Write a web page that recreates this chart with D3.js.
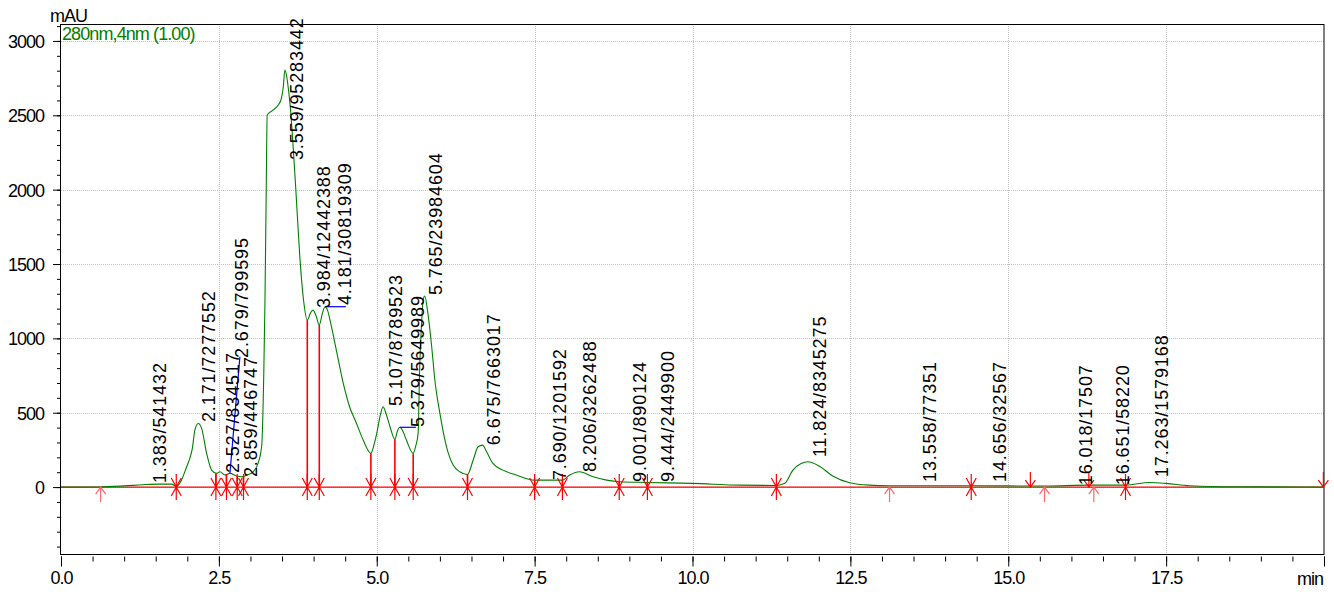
<!DOCTYPE html>
<html>
<head>
<meta charset="utf-8">
<script src="https://cdn.jsdelivr.net/npm/d3@7"></script>
<style>
  html, body { margin: 0; padding: 0; background: #fff; }
  svg { display: block; font-family: "Liberation Sans", Arial, sans-serif; }
</style>
</head>
<body>
<svg id="chart" width="1334" height="592"></svg>
<script>
// Chromatogram trace: retention time (min) and absorbance (mAU)
const timeMin = [
  0.00, 0.60, 1.00, 1.30, 1.55, 1.75, 1.83, 1.90, 1.99, 2.04, 2.08, 2.12, 2.173, 2.227,
  2.306, 2.385, 2.464, 2.517, 2.596, 2.675, 2.78, 2.86, 2.94, 3.044, 3.12, 3.177, 3.213,
  3.23, 3.25, 3.265, 3.36, 3.44, 3.49, 3.52, 3.545, 3.57, 3.60, 3.63, 3.67, 3.72, 3.78,
  3.84, 3.90, 3.95, 3.99, 4.04, 4.09, 4.14, 4.18, 4.22, 4.26, 4.36, 4.47, 4.57, 4.68,
  4.785, 4.907, 4.96, 5.00, 5.06, 5.10, 5.15, 5.21, 5.287, 5.33, 5.366, 5.42, 5.47,
  5.577, 5.62, 5.655, 5.68, 5.71, 5.735, 5.76, 5.81, 5.87, 5.92, 6.00, 6.105, 6.21,
  6.315, 6.437, 6.527, 6.605, 6.675, 6.74, 6.84, 7.00, 7.21, 7.50, 7.69, 7.94, 8.056,
  8.21, 8.425, 8.64, 8.85, 9.27, 10.00, 10.75, 11.33, 11.46, 11.59, 11.72, 11.83, 12.01,
  12.22, 12.49, 12.80, 13.12, 14.41, 15.57, 16.28, 16.86, 17.24, 17.50, 17.87, 18.66, 20.00
];
const absMAU = [
  0, 1, 8, 16, 20, 20, 5, 40, 137, 193, 260, 383, 428, 395,
  227, 114, 92, 103, 81, 92, 74, 69, 81, 103, 159, 271, 809,
  1258, 2000, 2502, 2536, 2569, 2614, 2692, 2805, 2771, 2680, 2560, 2330, 1990, 1560,
  1260, 1123, 1170, 1190, 1150, 1090, 1170, 1213, 1190, 1123, 921, 697, 540, 428,
  316, 227, 290, 361, 490, 540, 490, 406, 321, 380, 402, 370, 316,
  227, 280, 361, 809, 1100, 1258, 1285, 1168, 944, 720, 496, 271, 148,
  103, 85, 182, 271, 282, 237, 159, 114, 81, 47, 47, 47, 81,
  103, 69, 47, 36, 31, 25, 13, 11, 25, 114, 159, 170, 140,
  75, 29, 13, 9, 9, 7, 13, 13, 31, 25, 9, 2, 0
];

// Integrated peaks: retention time and area
const peakRT = ["1.383", "2.171", "2.527", "2.679", "2.859", "3.559", "3.984", "4.181",
  "5.107", "5.379", "5.765", "6.675", "7.690", "8.206", "9.001", "9.444",
  "11.824", "13.558", "14.656", "16.018", "16.651", "17.263"];
const peakArea = ["541432", "7277552", "834517", "799595", "446747", "95283442", "12442388",
  "30819309", "8789523", "5649989", "23984604", "7663017", "1201592", "3262488", "890124",
  "2449900", "8345275", "77351", "32567", "17507", "58220", "1579168"];
// Anchor of each peak label (min) and the absorbance its text starts from (mAU)
const labelAtMin = [1.662, 2.437, 2.817, 2.96, 3.10, 3.83, 4.258, 4.59, 5.397, 5.745,
  6.03, 6.948, 7.993, 8.468, 9.26, 9.70, 12.108, 13.85, 14.957, 16.334, 16.92, 17.537];
const labelBaseMAU = [27, 437, 94, 868, 67, 2199, 1204, 1224, 545, 404, 1291, 282, 47, 101,
  34, 34, 202, 34, 34, 13, 13, 67];

// Peak boundary marks (min) and the height of their drop lines (mAU)
const boundaryMin = [1.825, 2.453, 2.62, 2.79, 2.89, 3.90, 4.09, 4.907, 5.287, 5.577,
  6.437, 7.50, 7.94, 8.84, 9.286, 11.328, 14.414, 16.857];
const boundaryDropMAU = [0, 92, 88, 74, 74, 1123, 1090, 227, 321, 227,
  85, 47, 47, 36, 31, 11, 9, 0];
// Baseline start / end events (min)
const startMin = [0.628, 13.12, 15.575, 16.355];
const endMin = [15.35, 16.277, 19.99];
// Skim / tangent segments: [t1, v1, t2, v2]
const skimT1 = [2.675, 4.18, 5.366];
const skimV1 = [92, 1213, 402];
const skimT2 = [2.833, 4.51, 5.62];
const skimV2 = [876, 1213, 402];

// Axis ticks
const xTickValues = [0, 2.5, 5, 7.5, 10, 12.5, 15, 17.5];
const xTickLabels = ["0.0", "2.5", "5.0", "7.5", "10.0", "12.5", "15.0", "17.5"];
const yTickValues = [0, 500, 1000, 1500, 2000, 2500, 3000];
const yTickLabels = ["0", "500", "1000", "1500", "2000", "2500", "3000"];

const svg = d3.select("#chart");
const plotL = 61, plotR = 1324, plotT = 24, plotB = 554;

const x = d3.scaleLinear().domain([0, 20]).range([plotL, plotR]);
const y = d3.scaleLinear().domain([-450, 3114]).range([plotB, plotT]);

const red = "#ff0000", pink = "#ff6a6a", green = "#008000", blue = "#0000ff";

// grid
const grid = svg.append("g");
grid.selectAll("line.gx").data(xTickValues.filter(d => d > 0)).join("line")
  .attr("x1", d => Math.round(x(d)) + 0.5).attr("x2", d => Math.round(x(d)) + 0.5)
  .attr("y1", plotT).attr("y2", plotB)
  .attr("stroke", "#c0c0c0").attr("stroke-dasharray", "1,1");
grid.selectAll("line.gy").data(yTickValues).join("line")
  .attr("x1", plotL).attr("x2", plotR)
  .attr("y1", d => Math.round(y(d)) + 0.5).attr("y2", d => Math.round(y(d)) + 0.5)
  .attr("stroke", "#c0c0c0").attr("stroke-dasharray", "1,1");

// minor ticks
const xMinor = d3.range(0, 20.01, 0.5);
const yMinor = d3.range(-400, 3101, 100);
svg.append("g").attr("transform", `translate(0,${plotB + 2.5})`)
  .call(d3.axisBottom(x).tickValues(xMinor).tickSize(5).tickFormat(""))
  .call(g => g.select(".domain").remove());
svg.append("g").attr("transform", `translate(${plotL},0)`)
  .call(d3.axisLeft(y).tickValues(yMinor).tickSize(4).tickFormat(""))
  .call(g => g.select(".domain").remove());

// major ticks with labels
const xAxis = svg.append("g").attr("transform", `translate(0,${plotB + 2.5})`)
  .call(d3.axisBottom(x).tickValues(xTickValues.concat([20])).tickSize(10).tickPadding(5)
    .tickFormat((d, i) => i < xTickLabels.length ? xTickLabels[i] : ""))
  .call(g => g.select(".domain").remove());
const yAxis = svg.append("g").attr("transform", `translate(${plotL},0)`)
  .call(d3.axisLeft(y).tickValues(yTickValues).tickSize(8).tickPadding(9)
    .tickFormat((d, i) => yTickLabels[i]))
  .call(g => g.select(".domain").remove());
[xAxis, yAxis].forEach(g => g.selectAll("text")
  .attr("font-family", "'Liberation Sans', Arial, sans-serif")
  .attr("font-size", 18).attr("letter-spacing", "-1px").attr("fill", "#000"));
yAxis.selectAll("text").attr("dy", "0.36em");

// frame
svg.append("rect").attr("x", plotL - 0.5).attr("y", plotT + 0.5)
  .attr("width", plotR - plotL + 0.5).attr("height", plotB - plotT)
  .attr("fill", "none").attr("stroke", "#000").attr("stroke-width", 1);

// baseline
svg.append("line").attr("x1", x(0)).attr("x2", x(20))
  .attr("y1", y(0)).attr("y2", y(0)).attr("stroke", red).attr("stroke-width", 1.3);

// trace
const pts = timeMin.map((t, i) => [t, absMAU[i]]);
svg.append("path").datum(pts)
  .attr("d", d3.line().x(d => x(d[0])).y(d => y(d[1])).curve(d3.curveMonotoneX))
  .attr("fill", "none").attr("stroke", green).attr("stroke-width", 1.1);

// drop lines
svg.append("g").selectAll("line").data(boundaryMin).join("line")
  .attr("x1", d => x(d)).attr("x2", d => x(d))
  .attr("y1", y(0)).attr("y2", (d, i) => y(boundaryDropMAU[i]))
  .attr("stroke", red).attr("stroke-width", 1.6);

// skim lines
svg.append("g").selectAll("line").data(skimT1).join("line")
  .attr("x1", d => x(d)).attr("y1", (d, i) => y(skimV1[i]))
  .attr("x2", (d, i) => x(skimT2[i])).attr("y2", (d, i) => y(skimV2[i]))
  .attr("stroke", blue).attr("stroke-width", 1.2);

// boundary asterisks
const y0 = y(0);
const star = svg.append("g").attr("stroke", red).attr("stroke-width", 1.2).attr("fill", "none");
boundaryMin.forEach(t => {
  const cx = x(t);
  star.append("path").attr("d",
    `M${cx},${y0 - 13}V${y0 + 13}M${cx - 5},${y0 - 9}L${cx + 5},${y0 + 9}M${cx + 5},${y0 - 9}L${cx - 5},${y0 + 9}`);
});
// start arrows (below baseline, pointing up)
const arr = svg.append("g").attr("fill", "none").attr("stroke-width", 1.2);
startMin.forEach(t => {
  const cx = x(t);
  arr.append("path").attr("stroke", pink)
    .attr("d", `M${cx},${y0}V${y0 + 15}M${cx - 5},${y0 + 7}L${cx},${y0}L${cx + 5},${y0 + 7}`);
});
// end arrows (above baseline, pointing down)
endMin.forEach(t => {
  const cx = x(t);
  arr.append("path").attr("stroke", red)
    .attr("d", `M${cx},${y0}V${y0 - 15}M${cx - 5},${y0 - 7}L${cx},${y0}L${cx + 5},${y0 - 7}`);
});

// peak labels
svg.append("g").selectAll("text").data(peakRT).join("text")
  .attr("transform", (d, i) => `translate(${x(labelAtMin[i])},${y(labelBaseMAU[i])}) rotate(-90)`)
  .attr("font-size", 18).attr("letter-spacing", "0.9px").attr("fill", "#000")
  .text((d, i) => `${d}/${peakArea[i]}`);

// unit and channel captions
svg.append("text").attr("x", 50).attr("y", 22).attr("font-size", 18)
  .attr("letter-spacing", "-1px").text("mAU");
svg.append("text").attr("x", 62).attr("y", 40).attr("font-size", 18)
  .attr("letter-spacing", "-0.9px").attr("fill", green).text("280nm,4nm (1.00)");
svg.append("text").attr("x", 1323).attr("y", 585).attr("font-size", 18)
  .attr("letter-spacing", "-1px").attr("text-anchor", "end").text("min");
</script>
</body>
</html>
